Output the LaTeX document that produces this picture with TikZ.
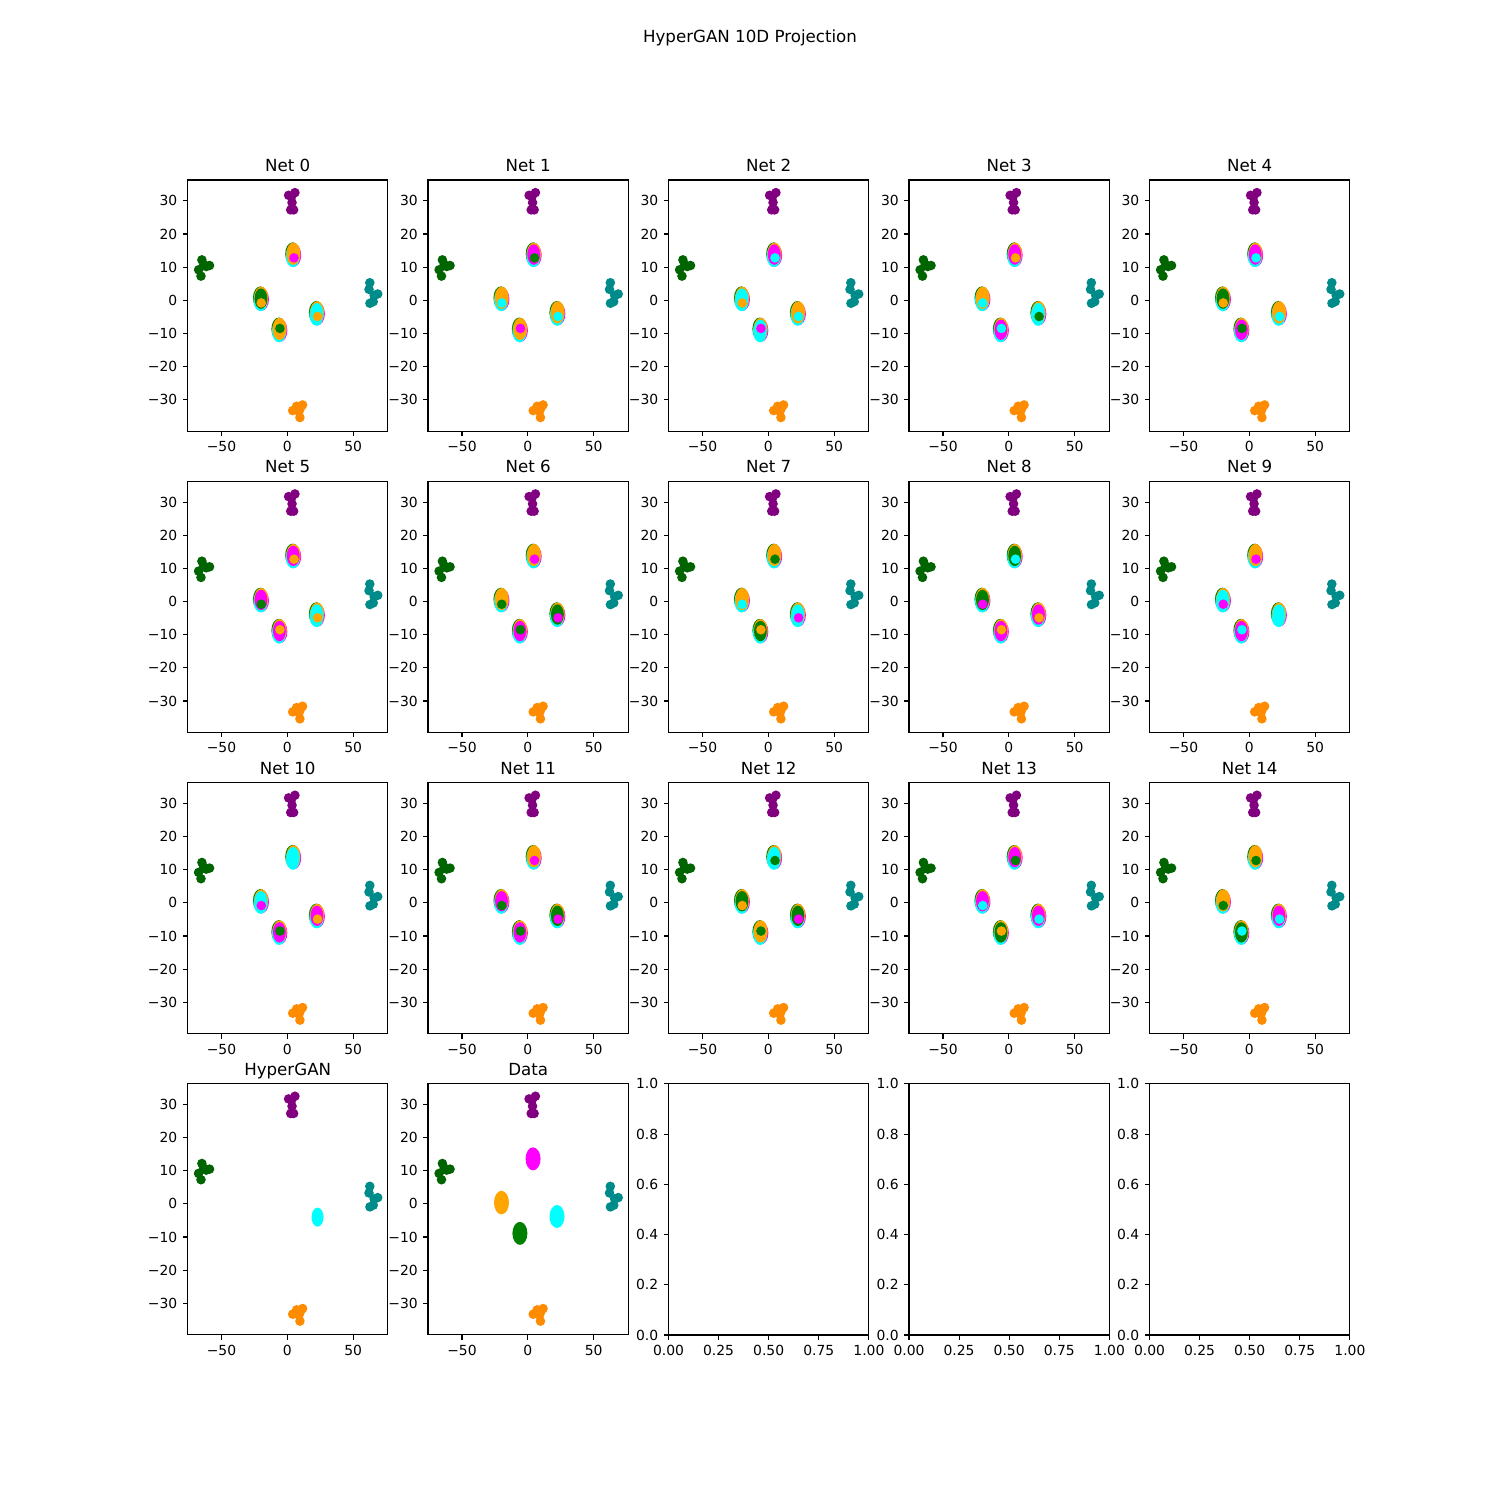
\documentclass[tikz,border=0pt]{standalone}
\usepackage{fontspec}
\setmainfont{DejaVu Sans}

\definecolor{ptpurple}{HTML}{800080}
\definecolor{ptdkgreen}{HTML}{006400}
\definecolor{ptteal}{HTML}{008B8B}
\definecolor{ptdkorange}{HTML}{FF8C00}
\definecolor{siteo}{HTML}{FFA500}
\definecolor{siteg}{HTML}{008000}
\definecolor{sitem}{HTML}{FF00FF}
\definecolor{sitec}{HTML}{00FFFF}

\tikzset{
  spine/.style={line width=1.11pt},
  tickline/.style={line width=1.11pt},
  ticklabx/.style={anchor=north,inner sep=0pt,yshift=-4.86pt,font=\fontsize{13.89}{16}\selectfont},
  ticklaby/.style={anchor=east,inner sep=0pt,xshift=-4.86pt,font=\fontsize{13.89}{16}\selectfont},
  paneltitle/.style={anchor=base,inner sep=0pt,font=\fontsize{16.67}{20}\selectfont},
  ptdot/.style={radius=4.8pt},
}

% the four clusters that stay put in every panel
\newcommand\fixedclusters{%
  \foreach \px/\py in {1/31.7,3.2/31.3,5.8/32.5,3.6/29.5,2.6/27.3,4.8/27.3}
    \fill[ptpurple] (\px,\py) circle[ptdot];
  \foreach \px/\py in {-64.9/12.2,-59.1/10.5,-67.4/9.2,-65.6/7.3,-61.6/10.2,-63.5/10.8}
    \fill[ptdkgreen] (\px,\py) circle[ptdot];
  \foreach \px/\py in {62.7/5.3,62.1/3.3,68.7/1.9,62.8/-0.9,65.3/-0.4,66/1.5}
    \fill[ptteal] (\px,\py) circle[ptdot];
  \foreach \px/\py in {4.1/-33.3,11.6/-31.6,8.9/-33.6,9.6/-35.4,7.1/-32,10/-32.5}
    \fill[ptdkorange] (\px,\py) circle[ptdot];
}

% mixed blob: x, y, body colour, dot colour, dot dx, dot dy
\newcommand\blob[6]{%
  \fill[siteg] (#1-0.4,#2+0.2) ellipse [x radius=7.5pt, y radius=11.6pt];
  \fill[sitem] (#1+0.5,#2-0.2) ellipse [x radius=7.3pt, y radius=11.4pt];
  \fill[sitec] (#1-0.2,#2-0.4) ellipse [x radius=7.2pt, y radius=11.3pt];
  \fill[siteo] (#1+0.2,#2+0.3) ellipse [x radius=7pt, y radius=11pt];
  \fill[fill=site#3] (#1,#2) ellipse [x radius=6.4pt, y radius=10.2pt];
  \fill[fill=site#4] (#1+#5,#2+#6) circle[ptdot];
}

\newcommand\dataaxes[1]{%
  \draw[spine] (-75.84,-39.49) rectangle (76.44,36.32);
  \foreach \t/\lab [count=\k] in {-50/−50,0/0,50/50}
    \draw[tickline] (\t,-39.49) -- ++(0,-4.86pt) node[ticklabx] (xt\k) {\lab};
  \foreach \t/\lab [count=\k] in {-30/−30,-20/−20,-10/−10,0/0,10/10,20/20,30/30}
    \draw[tickline] (-75.84,\t) -- ++(-4.86pt,0) node[ticklaby] (yt\k) {\lab};
  \node[paneltitle,yshift=8.33pt] (title) at (0.3,36.32) {#1};
}

\newcommand\emptyaxes{%
  \draw[spine] (0,0) rectangle (1,1);
  \foreach \t/\lab [count=\k] in {0/0.00,0.25/0.25,0.5/0.50,0.75/0.75,1/1.00}
    \draw[tickline] (\t,0) -- ++(0,-4.86pt) node[ticklabx] (xt\k) {\lab};
  \foreach \t/\lab [count=\k] in {0/0.0,0.2/0.2,0.4/0.4,0.6/0.6,0.8/0.8,1/1.0}
    \draw[tickline] (0,\t) -- ++(-4.86pt,0) node[ticklaby] (yt\k) {\lab};
}

\begin{document}
\begin{tikzpicture}[x=1pt,y=1pt]
\useasboundingbox (0,0) rectangle (1500,1500);
\fill[white] (0,0) rectangle (1500,1500);

\node[font=\fontsize{16.67}{20}\selectfont,anchor=north,inner sep=0pt] (suptitle) at (750,1470) {HyperGAN 10D Projection};

% Net 0 .. Net 14
\foreach \n/\ma/\md/\oa/\od/\ga/\gd/\ca/\cd in {
  0/o/m/g/o/o/g/c/o, 1/m/g/o/c/o/m/o/c, 2/m/c/c/o/c/m/o/c,
  3/m/o/o/c/m/c/c/g, 4/m/c/g/o/m/g/o/c, 5/m/o/m/g/m/o/c/o,
  6/o/m/o/g/m/g/g/m, 7/o/g/o/c/g/o/c/m, 8/g/c/g/m/m/o/m/o,
  9/o/m/c/m/m/c/c/c, 10/c/c/c/m/m/g/m/o, 11/o/m/m/g/m/g/g/m,
  12/c/g/g/o/o/g/g/m, 13/m/g/m/c/g/o/m/c, 14/o/g/o/g/g/c/m/c}{
  \pgfmathtruncatemacro\row{\n/5}
  \pgfmathtruncatemacro\col{\n-5*\row}
  \pgfmathsetmacro\ox{287.3+\col*240.5}
  \pgfmathsetmacro\oy{1199.7-\row*301.3}
  \begin{scope}[shift={(\ox pt,\oy pt)},x=1.316pt,y=3.312pt]
    \fixedclusters
    \blob{4.5}{13.8}{\ma}{\md}{0.6}{-1.0}
    \blob{-20}{0.5}{\oa}{\od}{0.2}{-1.3}
    \blob{-6}{-8.9}{\ga}{\gd}{0.4}{0.4}
    \blob{22.5}{-3.9}{\ca}{\cd}{0.5}{-1.0}
    \dataaxes{Net \n}
  \end{scope}
}

% HyperGAN
\begin{scope}[shift={(287.3pt,296.1pt)},x=1.316pt,y=3.312pt]
  \fixedclusters
  \fill[sitec] (23,-4) ellipse [x radius=6pt, y radius=9.5pt];
  \dataaxes{HyperGAN}
\end{scope}

% Data
\begin{scope}[shift={(527.8pt,296.1pt)},x=1.316pt,y=3.312pt]
  \fixedclusters
  \fill[sitem] (4,13.6) ellipse [x radius=7.5pt, y radius=11.5pt];
  \fill[siteo] (-20,0.4) ellipse [x radius=7.5pt, y radius=11.8pt];
  \fill[siteg] (-6,-8.9) ellipse [x radius=7.5pt, y radius=11.5pt];
  \fill[sitec] (22.2,-3.8) ellipse [x radius=7.5pt, y radius=11.5pt];
  \dataaxes{Data}
\end{scope}

% unused axes
\foreach \col in {2,3,4}{
  \pgfmathsetmacro\ox{187.5+\col*240.5}
  \begin{scope}[shift={(\ox pt,165pt)},x=200.4pt,y=251.1pt]
    \emptyaxes
  \end{scope}
}
\end{tikzpicture}
\end{document}
